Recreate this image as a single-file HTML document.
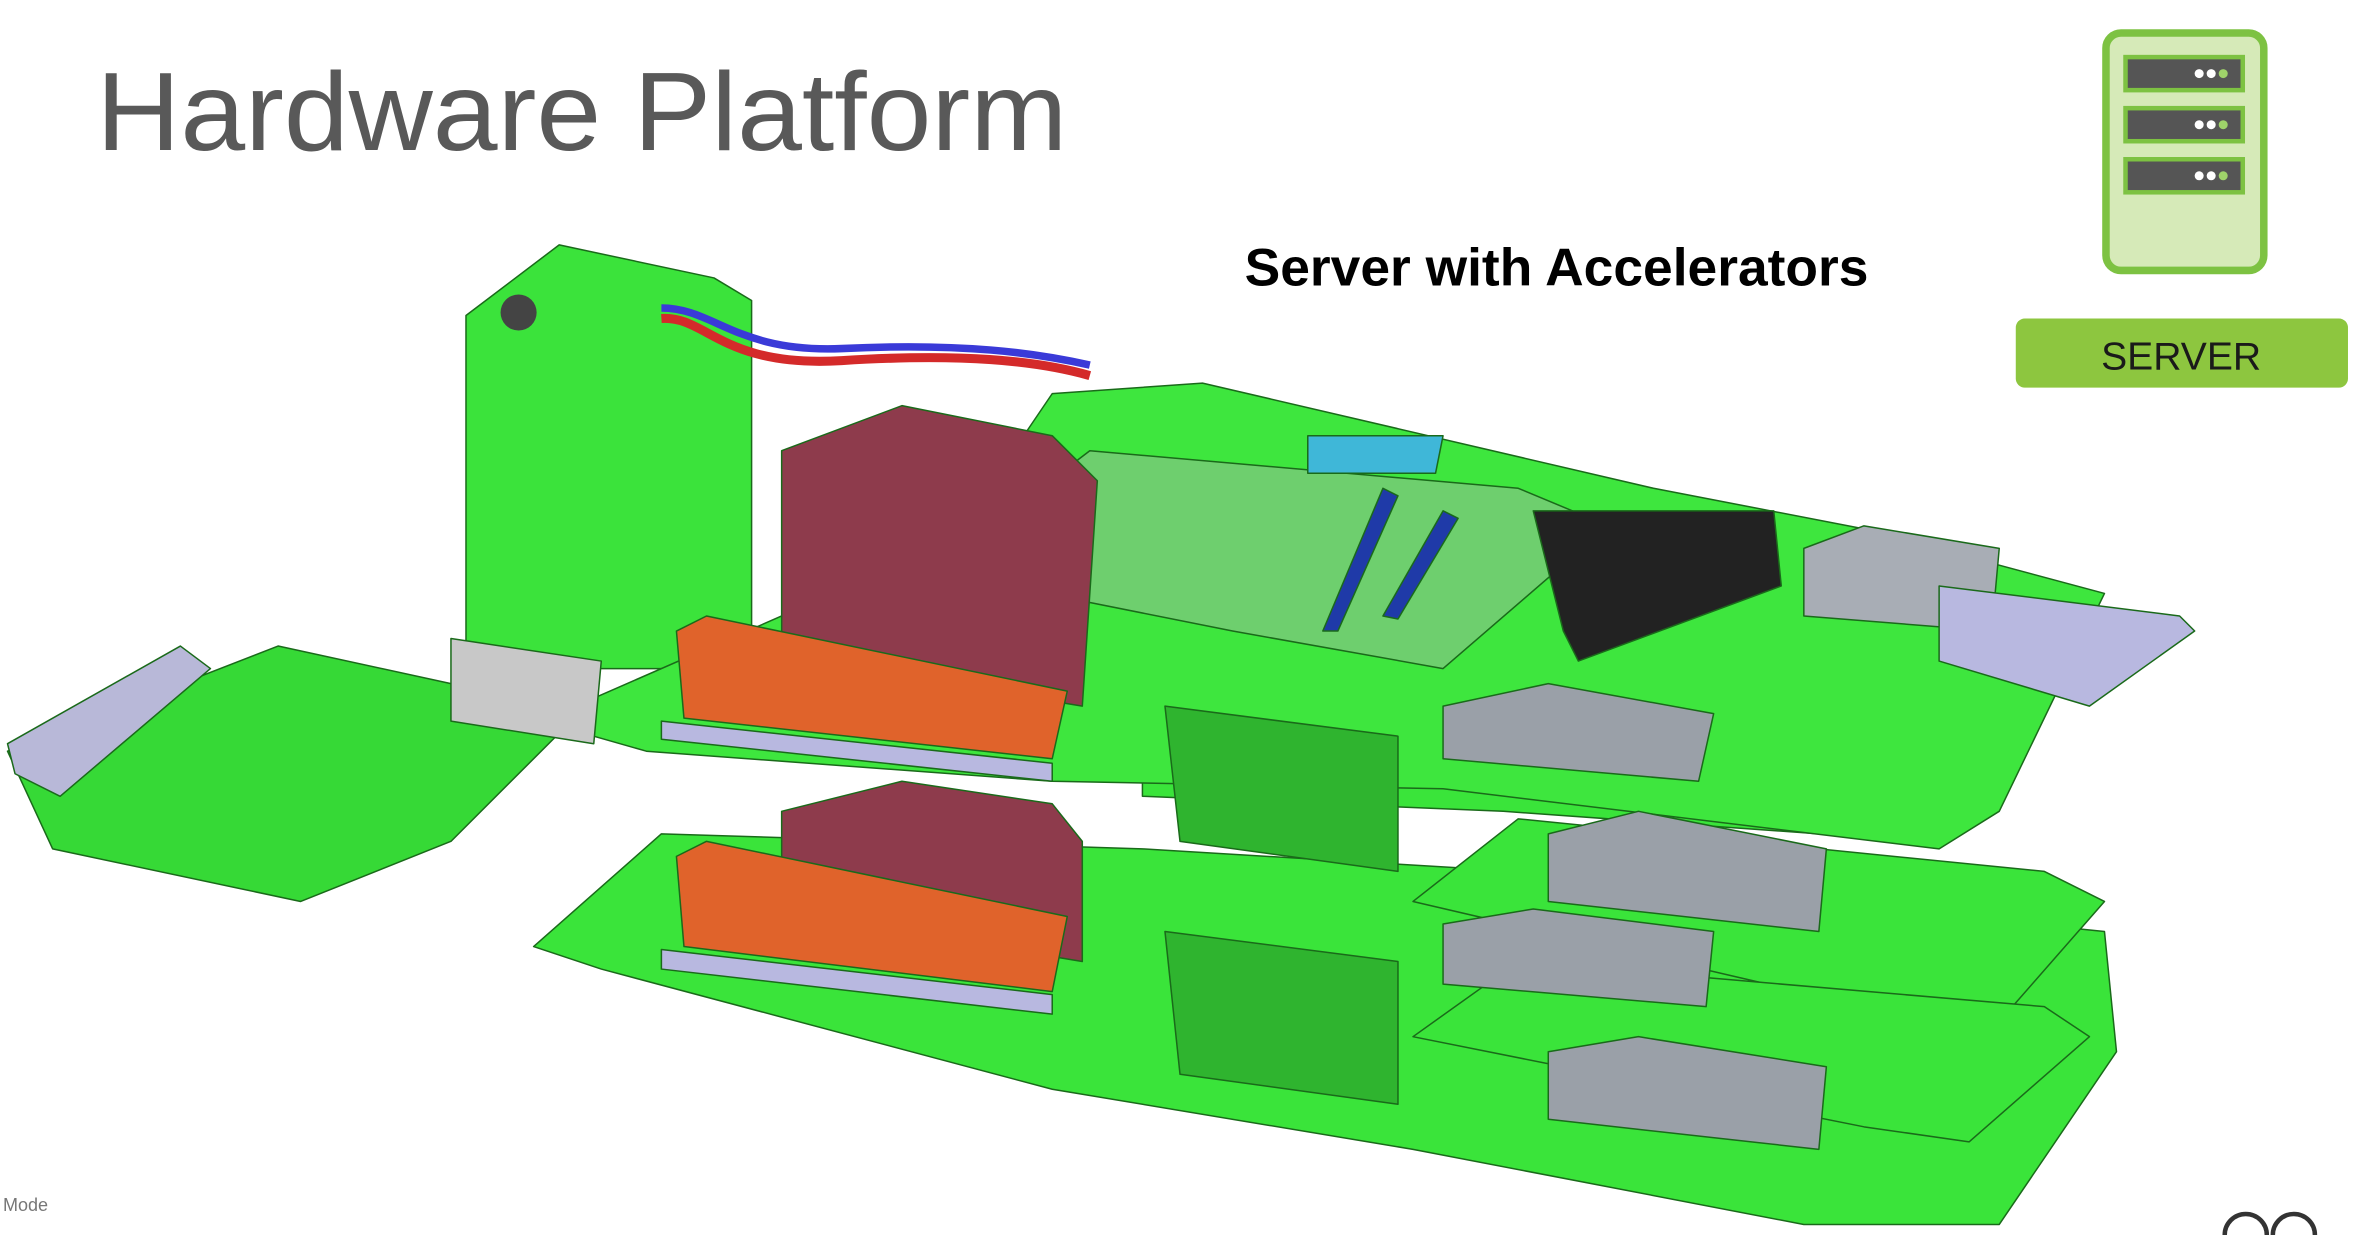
<!DOCTYPE html>
<html><head><meta charset="utf-8"><style>
html,body{margin:0;padding:0;background:#fff;}
body{width:2357px;height:1238px;overflow:hidden;position:relative;font-family:"Liberation Sans",sans-serif;}
svg{position:absolute;left:0;top:0;}
</style></head><body>
<svg width="2357" height="1238" viewBox="0 0 1568 824" preserveAspectRatio="none" xmlns="http://www.w3.org/2000/svg">
<rect width="1568" height="824" fill="#fff"/>
<text x="64" y="100" font-family="Liberation Sans, sans-serif" font-size="74" fill="#595959" textLength="646" lengthAdjust="spacingAndGlyphs">Hardware Platform</text>
<text x="828" y="190" font-family="Liberation Sans, sans-serif" font-size="35" font-weight="bold" fill="#000" textLength="415" lengthAdjust="spacingAndGlyphs">Server with Accelerators</text>
<!-- server icon -->
<rect x="1401" y="22" width="105" height="158" rx="10" fill="#d6eab8" stroke="#7dc242" stroke-width="5"/>
<g fill="#555">
<rect x="1414" y="38" width="78" height="22" stroke="#7dc242" stroke-width="3"/>
<rect x="1414" y="72" width="78" height="22" stroke="#7dc242" stroke-width="3"/>
<rect x="1414" y="106" width="78" height="22" stroke="#7dc242" stroke-width="3"/>
</g>
<g fill="#fff"><circle cx="1463" cy="49" r="3"/><circle cx="1471" cy="49" r="3"/><circle cx="1479" cy="49" r="3" fill="#9fd36a"/>
<circle cx="1463" cy="83" r="3"/><circle cx="1471" cy="83" r="3"/><circle cx="1479" cy="83" r="3" fill="#9fd36a"/>
<circle cx="1463" cy="117" r="3"/><circle cx="1471" cy="117" r="3"/><circle cx="1479" cy="117" r="3" fill="#9fd36a"/></g>
<rect x="1341" y="212" width="221" height="46" rx="6" fill="#8dc63f"/>
<text x="1451" y="246" text-anchor="middle" font-family="Liberation Sans, sans-serif" font-size="26" fill="#1a1a1a">SERVER</text>
<text x="2" y="806" font-family="Liberation Sans, sans-serif" font-size="12" fill="#777">Mode</text>

<g stroke="#1a6a1a" stroke-width="1" stroke-linejoin="round">
<polygon points="310,210 372,163 475,185 500,200 500,445 310,445" fill="#3be33b"/>
<polygon points="5,500 185,430 300,455 390,470 300,560 200,600 35,565" fill="#36d936"/>
<polygon points="5,495 120,430 140,445 40,530 10,515" fill="#b8b8d8"/>
<polygon points="355,630 440,555 760,565 1010,580 1400,620 1408,700 1330,815 1200,815 940,765 700,725 400,645" fill="#3ae43a"/>
<polygon points="940,600 1010,545 1360,580 1400,600 1330,680 1240,670" fill="#3ae43a"/>
<polygon points="940,690 1010,640 1360,670 1390,690 1310,760 1240,750" fill="#3ae43a"/>
<polygon points="760,470 860,440 1200,480 1310,520 1280,560 1000,540 760,530" fill="#3ae43a"/>
<polygon points="360,480 520,410 620,380 700,262 800,255 1100,325 1240,352 1400,395 1330,540 1290,565 960,525 700,520 430,500" fill="#3ee63e"/>
<polygon points="620,380 725,300 1010,325 1070,350 960,445 820,420" fill="#6ecf6e"/>
<polygon points="520,300 600,270 700,290 730,320 720,470 540,440 520,420" fill="#8e3b4c"/>
<polygon points="520,540 600,520 700,535 720,560 720,640 540,610 520,600" fill="#8e3b4c"/>
<polygon points="450,420 470,410 710,460 700,505 455,478" fill="#e0632b"/>
<polygon points="450,570 470,560 710,610 700,660 455,630" fill="#e0632b"/>
<polygon points="440,480 700,508 700,520 440,492" fill="#b8b8e0"/>
<polygon points="440,632 700,662 700,675 440,645" fill="#b8b8e0"/>
<polygon points="960,470 1030,455 1140,475 1130,520 960,505" fill="#9aa0a8"/>
<polygon points="1030,555 1090,540 1215,565 1210,620 1030,600" fill="#9aa0a8"/>
<polygon points="960,615 1020,605 1140,620 1135,670 960,655" fill="#9aa0a8"/>
<polygon points="1030,700 1090,690 1215,710 1210,765 1030,745" fill="#9aa0a8"/>
<polygon points="1200,365 1240,350 1330,365 1325,420 1200,410" fill="#a8adb5"/>
<polygon points="1290,390 1450,410 1460,420 1390,470 1290,440" fill="#b8b8e0"/>
<polygon points="775,470 930,490 930,580 785,560" fill="#2fb42f"/>
<polygon points="775,620 930,640 930,735 785,715" fill="#2fb42f"/>
<polygon points="1020,340 1180,340 1185,390 1050,440 1040,420" fill="#222"/>
<polygon points="870,290 960,290 955,315 870,315" fill="#3fb7d8"/>
<polygon points="880,420 920,325 930,330 890,420" fill="#1f3aa8"/>
<polygon points="920,410 960,340 970,345 930,412" fill="#1f3aa8"/>
<polygon points="300,425 400,440 395,495 300,480" fill="#c8c8c8"/>
</g>
<path d="M440,212 C470,210 480,245 560,240 C640,235 690,240 725,250" stroke="#d42a2a" stroke-width="6" fill="none"/>
<path d="M440,205 C475,205 490,235 560,232 C640,228 690,235 725,243" stroke="#3a3ad8" stroke-width="5" fill="none"/>
<circle cx="345" cy="208" r="12" fill="#444"/>
<path d="M1480,822 a14,14 0 0 1 28,0 M1512,822 a14,14 0 0 1 28,0" stroke="#333" stroke-width="3" fill="none"/>
</svg>
</body></html>
